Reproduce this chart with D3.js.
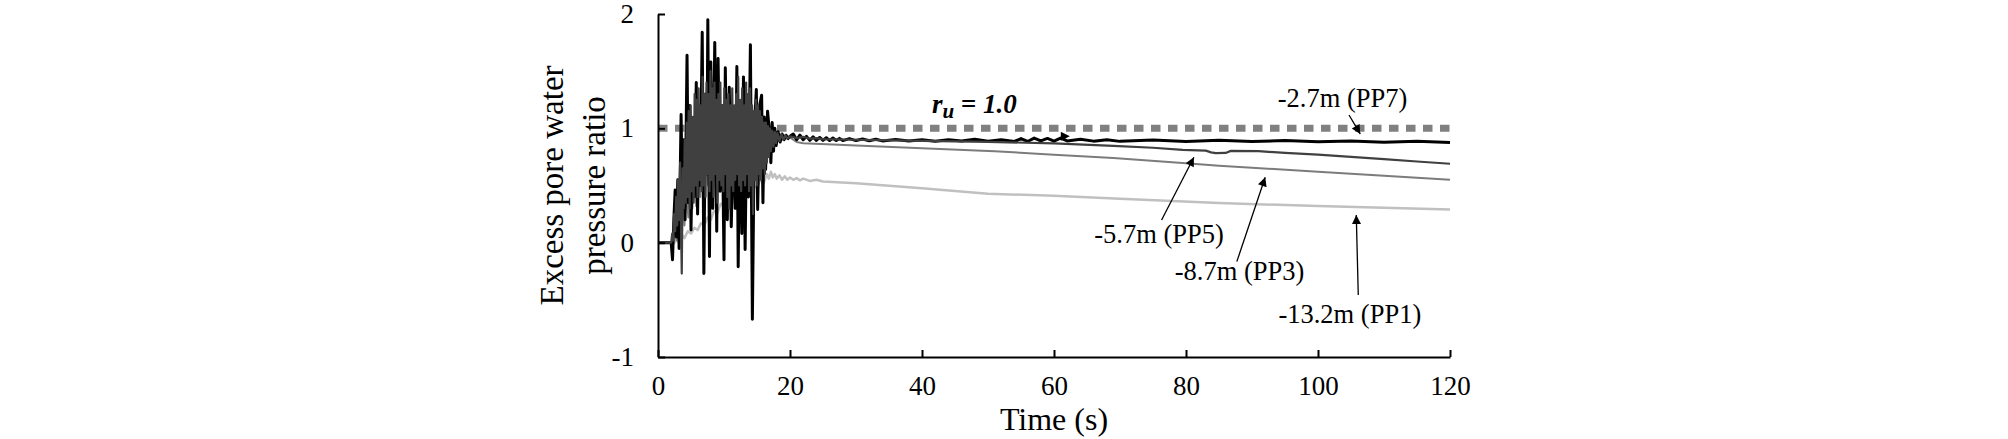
<!DOCTYPE html>
<html>
<head>
<meta charset="utf-8">
<script src="https://cdn.jsdelivr.net/npm/d3@7"></script>
<style>
  body { margin: 0; background: #fff; }
  text { font-family: "Liberation Serif", "Times New Roman", serif; fill: #000; }
</style>
</head>
<body>
<script>
// time (s), excess pore pressure ratio
const pp7 = [[0,0],[2.0,0],[2.2,-0.15],[2.4,0.2],[2.6,0.46],[2.8,0.05],[3.0,0.55],[3.2,-0.05],[3.5,1.12],[3.7,0.3],[3.9,0.9],[4.1,0.2],[4.4,1.64],[4.6,0.35],[4.8,1.2],[5.0,0.11],[5.3,1.07],[5.5,0.4],[5.8,1.4],[6.0,0.25],[6.2,1.1],[6.4,0.5],[6.7,1.84],[6.95,-0.27],[7.2,1.3],[7.4,0.6],[7.55,1.95],[7.8,-0.12],[8.0,1.58],[8.3,0.3],[8.6,1.75],[8.9,0.1],[9.1,1.61],[9.4,0.45],[9.7,1.2],[10.0,-0.15],[10.2,1.53],[10.5,0.2],[10.8,1.36],[11.1,0.14],[11.4,1.0],[11.7,0.3],[11.95,1.54],[12.15,-0.21],[12.4,1.2],[12.7,0.08],[12.95,1.45],[13.2,-0.06],[13.45,1.1],[13.7,0.4],[14.0,1.73],[14.3,-0.67],[14.6,1.0],[14.9,1.34],[15.1,0.29],[15.4,1.2],[15.7,1.29],[15.9,0.35],[16.1,1.1],[16.3,0.64],[16.6,1.15],[16.9,0.96],[17.1,0.7],[17.3,1.05],[17.5,0.8],[17.7,1.0],[17.9,0.85],[18.2,0.97],[18.5,0.88],[18.8,0.95],[19.1,0.9],[19.4,0.94],[19.7,0.91],[20,0.93],[20.5,0.95],[21,0.9],[21.5,0.94],[22,0.9],[22.5,0.93],[23,0.895],[23.5,0.925],[24,0.895],[24.5,0.92],[25,0.895],[25.5,0.918],[26,0.893],[26.5,0.915],[27,0.893],[27.5,0.912],[28,0.893],[29,0.91],[30,0.893],[31,0.907],[32,0.892],[33,0.905],[34,0.89],[36,0.903],[38,0.89],[40,0.9],[42,0.888],[44,0.9],[46,0.89],[48,0.905],[50,0.888],[52,0.9],[54,0.885],[55,0.91],[56,0.885],[57,0.915],[58,0.89],[59,0.912],[60,0.888],[61,0.915],[62,0.89],[64,0.905],[66,0.888],[68,0.9],[70,0.886],[75,0.898],[80,0.885],[85,0.895],[90,0.884],[95,0.893],[100,0.882],[105,0.89],[110,0.878],[115,0.886],[120,0.876]];

const pp5 = [[0,0],[2.0,0],[2.15,0.08],[2.3,0.02],[2.45,0.25],[2.6,0.1],[2.75,0.4],[2.9,0.15],[3.05,0.55],[3.2,0.2],[3.35,0.7],[3.5,0.1],[3.6,-0.27],[3.75,0.65],[3.9,0.3],[4.05,0.9],[4.2,0.35],[4.35,1.05],[4.5,0.4],[4.65,1.15],[4.8,0.3],[4.95,1.2],[5.1,0.45],[5.25,1.1],[5.4,0.35],[5.55,1.3],[5.7,0.5],[5.85,1.25],[6.0,0.4],[6.15,1.35],[6.3,0.55],[6.45,1.2],[6.6,0.45],[6.75,1.45],[6.9,0.5],[7.05,1.3],[7.2,0.4],[7.35,1.4],[7.5,0.6],[7.65,1.3],[7.8,0.45],[7.95,1.5],[8.1,0.55],[8.25,1.35],[8.4,0.4],[8.55,1.4],[8.7,0.6],[8.85,1.25],[9.0,0.35],[9.15,1.3],[9.3,0.55],[9.45,1.4],[9.6,0.5],[9.75,1.2],[9.9,0.45],[10.05,1.35],[10.2,0.6],[10.35,1.25],[10.5,0.4],[10.65,1.3],[10.8,0.3],[10.95,1.2],[11.1,0.5],[11.25,1.35],[11.4,0.45],[11.55,1.2],[11.7,0.55],[11.85,1.3],[12.0,0.6],[12.15,1.45],[12.3,0.5],[12.45,1.25],[12.6,0.45],[12.75,1.35],[12.9,0.55],[13.05,1.2],[13.2,0.5],[13.35,1.4],[13.5,0.6],[13.65,1.3],[13.8,0.45],[13.95,1.35],[14.1,0.5],[14.25,1.2],[14.4,0.25],[14.55,1.15],[14.7,0.55],[14.85,1.25],[15.0,0.5],[15.15,1.2],[15.3,0.6],[15.45,1.15],[15.6,0.55],[15.75,1.1],[15.9,0.65],[16.05,1.05],[16.2,0.6],[16.35,1.05],[16.5,0.7],[16.65,1.02],[16.8,0.75],[16.95,1.0],[17.1,0.8],[17.3,0.98],[17.5,0.84],[17.7,0.97],[17.9,0.87],[18.1,0.96],[18.4,0.89],[18.7,0.95],[19.0,0.9],[19.3,0.94],[19.6,0.91],[20,0.93],[21,0.915],[22,0.925],[23,0.91],[24,0.915],[25,0.905],[30,0.9],[40,0.89],[50,0.882],[60,0.868],[69,0.847],[75,0.83],[79.5,0.812],[83,0.805],[83.8,0.79],[84.5,0.783],[86,0.785],[86.8,0.803],[91,0.8],[95,0.785],[100,0.77],[105,0.75],[110,0.73],[115,0.71],[120,0.69]];

const pp3 = [[0,0],[2.2,0],[2.5,0.12],[2.8,0.02],[3.1,0.25],[3.4,0.08],[3.7,0.35],[4.0,0.15],[4.3,0.45],[4.6,0.22],[4.9,0.55],[5.2,0.3],[5.5,0.65],[5.8,0.32],[6.1,0.75],[6.4,0.4],[6.7,0.85],[7.0,0.42],[7.3,0.9],[7.6,0.5],[7.9,1.0],[8.2,0.5],[8.5,1.05],[8.8,0.55],[9.1,1.1],[9.4,0.6],[9.7,1.1],[10.0,0.62],[10.3,1.15],[10.6,0.6],[10.9,1.1],[11.2,0.65],[11.5,1.12],[11.8,0.7],[12.1,1.15],[12.4,0.68],[12.7,1.1],[13.0,0.7],[13.3,1.12],[13.6,0.72],[13.9,1.08],[14.2,0.7],[14.5,1.05],[14.8,0.72],[15.1,1.05],[15.4,0.75],[15.7,1.02],[16.0,0.78],[16.3,1.0],[16.6,0.82],[16.9,0.98],[17.2,0.85],[17.6,0.96],[18.0,0.88],[18.5,0.94],[19.0,0.9],[19.5,0.93],[20,0.92],[21,0.88],[22,0.87],[30,0.85],[40,0.825],[51,0.8],[60,0.77],[69,0.74],[80,0.695],[85,0.672],[90,0.655],[100,0.62],[110,0.585],[120,0.55]];

const pp1 = [[0,0],[2.5,0],[2.8,0.03],[3.2,0.0],[3.6,0.07],[4.0,0.04],[4.5,0.1],[5.0,0.08],[5.5,0.13],[6.0,0.11],[6.5,0.17],[7.0,0.15],[7.5,0.22],[8.0,0.2],[8.5,0.28],[9.0,0.26],[9.5,0.34],[10.0,0.32],[10.5,0.38],[11.0,0.36],[11.5,0.41],[12.0,0.39],[12.5,0.44],[13.0,0.42],[13.5,0.47],[14.0,0.44],[14.5,0.5],[15.0,0.48],[15.5,0.55],[16.0,0.52],[16.5,0.6],[16.8,0.56],[17.1,0.62],[17.4,0.57],[17.7,0.6],[18.0,0.56],[18.4,0.59],[18.8,0.55],[19.2,0.58],[19.6,0.55],[20,0.57],[20.5,0.55],[21,0.565],[21.5,0.545],[22,0.56],[23,0.54],[24,0.55],[25,0.535],[30,0.52],[40,0.475],[50,0.428],[60,0.41],[70,0.385],[85,0.347],[100,0.32],[110,0.305],[120,0.29]];

const xTicks = [0, 20, 40, 60, 80, 100, 120];
const yTicks = [-1, 0, 1, 2];
const ruLevel = 1.0;

// label text, label anchor, arrow start, arrow tip (data units)
const notes = [
  { text: "-2.7m (PP7)", at: [93.9, 1.189], from: [104.7, 1.117], to: [106.4, 0.951] },
  { text: "-5.7m (PP5)", at: [66.1, 0.0], from: [76.3, 0.198], to: [81.2, 0.747] },
  { text: "-8.7m (PP3)", at: [78.3, -0.327], from: [87.7, -0.166], to: [92.0, 0.572] },
  { text: "-13.2m (PP1)", at: [94.0, -0.70], from: [106.1, -0.458], to: [105.8, 0.242] }
];

const width = 2008, height = 439;
const margin = { top: 14, right: 558, bottom: 82, left: 658 };

const x = d3.scaleLinear().domain([0, 120]).range([margin.left, width - margin.right]);
const y = d3.scaleLinear().domain([-1, 2]).range([height - margin.bottom, margin.top]);

const svg = d3.select('body').append('svg')
  .attr('width', width)
  .attr('height', height);

svg.append('defs').append('marker')
  .attr('id', 'head')
  .attr('viewBox', '0 0 10 10')
  .attr('refX', 10).attr('refY', 5)
  .attr('markerWidth', 11).attr('markerHeight', 9)
  .attr('markerUnits', 'userSpaceOnUse')
  .attr('orient', 'auto')
  .append('path')
  .attr('d', 'M0,0L10,5L0,10Z')
  .attr('fill', '#000');

// r_u = 1.0 reference line
svg.append('line')
  .attr('x1', x(0)).attr('x2', x(120))
  .attr('y1', y(ruLevel)).attr('y2', y(ruLevel))
  .attr('stroke', '#808080')
  .attr('stroke-width', 7)
  .attr('stroke-dasharray', '9.5,7.5');

const line = d3.line()
  .x(d => x(d[0]))
  .y(d => y(d[1]));

const series = [
  { data: pp1, color: '#c0c0c0', w: 2.5 },
  { data: pp3, color: '#7c7c7c', w: 2 },
  { data: pp7, color: '#000000', w: 3 },
  { data: pp5, color: '#404040', w: 2.2 }
];

svg.selectAll('path.series')
  .data(series)
  .join('path')
  .attr('class', 'series')
  .attr('d', d => line(d.data))
  .attr('fill', 'none')
  .attr('stroke', d => d.color)
  .attr('stroke-width', d => d.w)
  .attr('stroke-linejoin', 'round');

// axes
const fmt = d => String(d);
const xAxis = svg.append('g')
  .attr('transform', `translate(0,${y(-1)})`)
  .call(d3.axisBottom(x).tickValues(xTicks).tickFormat(fmt).tickSizeInner(-7).tickSizeOuter(0).tickPadding(19));

const yAxis = svg.append('g')
  .attr('transform', `translate(${x(0)},0)`)
  .call(d3.axisLeft(y).tickValues(yTicks).tickFormat(fmt).tickSizeInner(-7).tickSizeOuter(0).tickPadding(24));

[xAxis, yAxis].forEach(ax => {
  ax.attr('font-family', null).attr('font-size', null);
  ax.select('.domain').attr('stroke', '#000').attr('stroke-width', 2);
  ax.selectAll('.tick line').attr('stroke', '#000').attr('stroke-width', 2);
  ax.selectAll('.tick text').style('font-size', '27px');
});

// axis titles
svg.append('text')
  .attr('x', (x(0) + x(120)) / 2)
  .attr('y', 430)
  .attr('text-anchor', 'middle')
  .style('font-size', '32px')
  .text('Time (s)');

const yMid = (y(2) + y(-1)) / 2;
[['Excess pore water', 563], ['pressure ratio', 605]].forEach(([label, bx]) => {
  svg.append('text')
    .attr('transform', `translate(${bx},${yMid}) rotate(-90)`)
    .attr('text-anchor', 'middle')
    .style('font-size', '33px')
    .text(label);
});

// r_u label
const ru = svg.append('text')
  .attr('x', x(41.5)).attr('y', y(1.131))
  .style('font-size', '27px')
  .style('font-weight', 'bold')
  .style('font-style', 'italic');
ru.append('tspan').text('r');
ru.append('tspan').attr('dy', 5).style('font-size', '21px').text('u');
ru.append('tspan').attr('dy', -5).text(' = 1.0');

// stray arrowhead sitting on the PP7 trace
svg.append('line')
  .attr('x1', x(61.0)).attr('y1', y(0.93))
  .attr('x2', x(62.4)).attr('y2', y(0.93))
  .attr('stroke', 'none')
  .attr('marker-end', 'url(#head)');

// depth labels with arrows
const notesG = svg.append('g');
notesG.selectAll('text')
  .data(notes)
  .join('text')
  .attr('x', d => x(d.at[0]))
  .attr('y', d => y(d.at[1]))
  .style('font-size', '26.5px')
  .text(d => d.text);

notesG.selectAll('line')
  .data(notes)
  .join('line')
  .attr('x1', d => x(d.from[0])).attr('y1', d => y(d.from[1]))
  .attr('x2', d => x(d.to[0])).attr('y2', d => y(d.to[1]))
  .attr('stroke', '#000')
  .attr('stroke-width', 1.3)
  .attr('marker-end', 'url(#head)');
</script>
</body>
</html>
